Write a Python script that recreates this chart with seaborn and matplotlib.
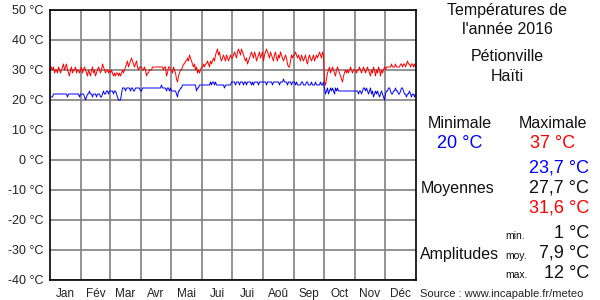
import numpy as np
import pandas as pd
import matplotlib
matplotlib.use("Agg")
import matplotlib.pyplot as plt
import seaborn as sns

months = ["Jan", "Fév", "Mar", "Avr", "Mai", "Jui", "Jui", "Aoû", "Sep", "Oct", "Nov", "Déc"]
month_days = [31, 29, 31, 30, 31, 30, 31, 31, 30, 31, 30, 31]
yticks = [-40, -30, -20, -10, 0, 10, 20, 30, 40, 50]

tmax = [
    30,31,30,31,29,30,30,29,31,30, 29,30,31,32,30,31,32,30,29,28, 30,31,29,30,30,31,29,30,30,29, 30,
    31,29,30,31,30,29,28,30,29,28, 30,31,29,30,28,29,30,31,30,29, 30,32,31,30,29,30,30,29,30,
    29,30,29,28,29,28,29,29,28,29, 28,29,30,29,30,31,32,33,31,32, 33,34,33,32,31,32,33,31,30,31, 31,
    31,30,30,31,30,28,29,29,30,30, 30,31,31,31,31,31,31,31,31,31, 31,31,30,31,31,28,29,31,31,30,
    30,29,31,30,29,27,26,28,29,30, 30,31,32,32,33,33,34,33,35,34, 33,32,31,32,30,31,29,30,29,30, 31,
    31,32,31,32,32,33,32,31,33,32, 33,34,33,35,36,37,35,36,34,33, 34,35,34,33,35,34,33,34,35,34,
    34,35,36,35,34,36,37,36,35,37, 36,35,34,33,34,32,33,34,35,36, 35,34,36,35,33,34,35,36,34,35, 36,
    33,35,36,37,36,35,34,36,35,34, 33,35,36,34,33,35,34,36,35,34, 33,34,35,34,32,31,31,33,35,34, 35,
    35,36,35,34,35,34,33,35,34,33, 34,35,33,32,34,35,34,33,34,35, 33,34,35,34,35,36,35,34,36,35,
    26,25,27,29,30,31,29,30,31,30, 29,28,30,31,30,29,28,27,26,28, 29,30,29,30,29,30,31,30,29,30, 30,
    30,29,30,30,31,30,29,30,31,30, 29,30,31,30,29,28,30,29,31,30, 28,30,29,31,30,28,30,29,30,31,
    30,31,31,31,31,31,32,31,31,31, 32,31,31,31,31,32,32,31,32,32, 31,32,33,32,32,31,32,32,31,32, 31,
]

tmin = [
    21,21,21,22,22,22,22,22,22,22, 22,22,22,22,22,22,22,21,22,22, 22,22,22,22,22,22,22,22,22,21, 22,
    22,22,22,21,20,21,22,22,23,22, 22,21,22,22,22,21,22,22,22,21, 21,22,23,22,22,23,23,22,23,
    23,23,23,22,23,23,22,21,20,20, 20,22,24,24,24,23,24,24,24,24, 23,24,24,23,23,24,24,24,24,24, 23,
    23,24,24,24,24,24,24,24,24,24, 24,24,24,24,24,24,24,24,24,24, 25,24,24,24,24,23,24,24,23,24,
    23,23,23,23,23,22,21,23,23,24, 24,25,25,25,25,25,25,25,25,25, 25,25,25,25,25,23,24,24,25,25, 25,
    25,25,25,25,25,25,25,25,26,25, 26,26,25,26,25,25,25,25,25,25, 25,25,24,25,25,25,25,25,25,26,
    26,26,26,25,26,26,26,25,26,26, 26,25,26,26,25,26,26,26,26,25, 26,25,26,26,26,26,25,26,26,26, 26,
    26,26,26,25,26,26,26,26,26,25, 26,26,26,26,26,26,25,26,26,26, 27,26,26,26,25,26,26,26,25,26, 26,
    26,25,26,25,25,25,25,26,26,25, 25,25,26,26,25,25,25,26,25,25, 25,26,25,25,25,25,26,25,25,26,
    24,22,23,24,22,23,24,23,24,23, 22,24,23,24,23,23,23,23,23,23, 23,23,23,23,23,23,23,23,23,23, 23,
    23,23,23,22,23,23,22,23,24,24, 23,24,23,22,23,24,22,23,21,22, 23,22,23,22,21,22,23,22,21,20,
    22,23,23,24,24,23,22,22,23,23, 24,23,23,22,22,23,24,24,23,22, 22,21,22,22,23,22,21,22,22,21, 22,
]

sns.set_theme(style="white")
plt.rcParams['font.family'] = ['Liberation Sans', 'DejaVu Sans']

fig = plt.figure(figsize=(6, 3), dpi=100)
ax = fig.add_axes([50/600, 20/300, 366/600, 270/300])

n = len(tmax)
days = np.arange(n) + 0.5
df = pd.DataFrame({
    "jour": np.concatenate([days, days]),
    "temp": tmax + tmin,
    "serie": ["max"] * n + ["min"] * n,
})
sns.lineplot(data=df, x="jour", y="temp", hue="serie",
             palette={"max": "#ff0000", "min": "#0000ff"},
             linewidth=0.7, legend=False, ax=ax)

starts = np.cumsum([0] + month_days)
centers = [(starts[i] + starts[i+1]) / 2 for i in range(12)]
ax.set_xlim(0, starts[-1])
ax.set_ylim(-40, 50)
ax.set_xticks(starts[1:-1])
ax.set_xticklabels([])
ax.set_xticks(centers, minor=True)
ax.set_xticklabels(months, minor=True)
ax.set_yticks(yticks)
ax.set_yticklabels([f"{v} °C" for v in yticks])
ax.tick_params(axis='x', which='both', length=0)
ax.tick_params(axis='x', which='minor', labelsize=8.5, colors="#222222", pad=6)
ax.tick_params(axis='y', length=0, labelsize=9, colors="#222222", pad=5)
ax.grid(True, which='major', color="#808080", linewidth=1.2)
ax.set_axisbelow(True)
ax.set_xlabel("")
ax.set_ylabel("")
for s in ax.spines.values():
    s.set_visible(True)
    s.set_color("black")
    s.set_linewidth(1.2)

def T(x, y, s, size=12, color="#111111", ha="center"):
    fig.text(x/600, 1 - y/300, s, fontsize=size, color=color, ha=ha, va="center")

T(507, 10, "Températures de", 11.5)
T(507, 30, "l'année 2016", 11.5)
T(507, 57, "Pétionville", 11.5)
T(507, 76, "Haïti", 11.5)
T(460, 124, "Minimale", 11.5)
T(553, 124, "Maximale", 11.5)
T(460, 143, "20 °C", 13, "#0000ff")
T(553, 143, "37 °C", 13, "#ff0000")
T(589, 168, "23,7 °C", 13, "#0000ff", "right")
T(421, 189, "Moyennes", 11.5, ha="left")
T(589, 188, "27,7 °C", 13, ha="right")
T(589, 208, "31,6 °C", 13, "#ff0000", "right")
T(505, 236, "min.", 7.5, ha="left")
T(589, 233, "1 °C", 13, ha="right")
T(420, 254, "Amplitudes", 11.5, ha="left")
T(505, 256, "moy.", 7.5, ha="left")
T(589, 253, "7,9 °C", 13, ha="right")
T(505, 275, "max.", 7.5, ha="left")
T(589, 273, "12 °C", 13, ha="right")
T(420, 294, "Source : www.incapable.fr/meteo", 8, "#222222", ha="left")

fig.savefig("out.png", dpi=100)
